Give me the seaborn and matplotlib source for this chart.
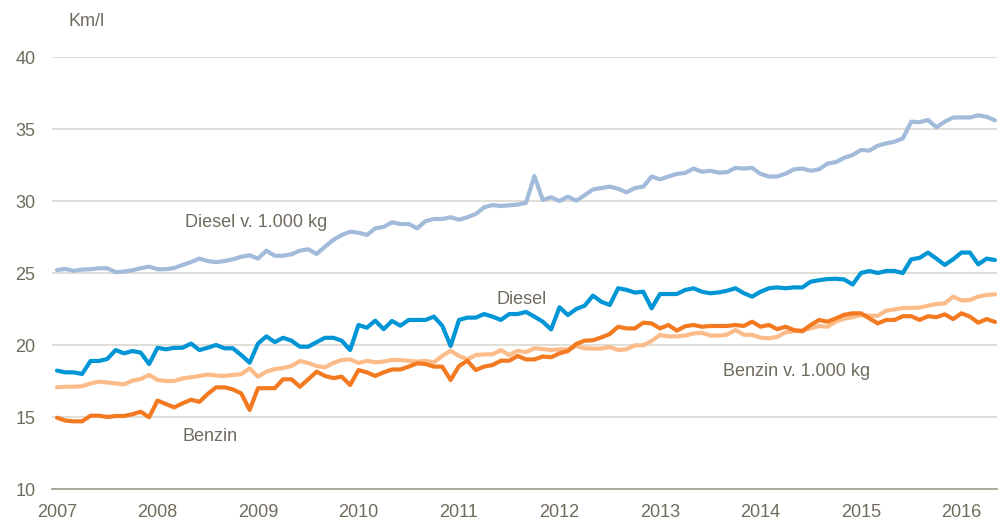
import numpy as np
import pandas as pd
import seaborn as sns
import matplotlib.pyplot as plt

# monthly values, Jan 2007 - May 2016 (Km/l)
diesel_kg = [
    25.2, 25.28, 25.15, 25.24, 25.26, 25.33, 25.33, 25.05, 25.1, 25.19, 25.33, 25.44,
    25.26, 25.26, 25.35, 25.56, 25.76, 26.0, 25.83, 25.75, 25.83, 25.95, 26.13, 26.23,
    26.0, 26.55, 26.2, 26.2, 26.3, 26.55, 26.65, 26.32, 26.83, 27.3, 27.64, 27.87,
    27.8, 27.64, 28.1, 28.2, 28.52, 28.4, 28.4, 28.1, 28.6, 28.75, 28.75, 28.87,
    28.7, 28.87, 29.1, 29.56, 29.72, 29.65, 29.7, 29.75, 29.88, 31.74, 30.07, 30.26,
    30.0, 30.3, 30.02, 30.4, 30.8, 30.9, 31.0, 30.85, 30.6, 30.9, 31.0, 31.7,
    31.5, 31.7, 31.88, 31.95, 32.25, 32.03, 32.1, 31.97, 32.0, 32.3, 32.25, 32.3,
    31.88, 31.7, 31.7, 31.9, 32.2, 32.25, 32.1, 32.2, 32.6, 32.7, 33.0, 33.2,
    33.54, 33.5, 33.84, 34.0, 34.12, 34.35, 35.51, 35.47, 35.63, 35.12, 35.51, 35.8,
    35.8, 35.8, 35.95, 35.85, 35.6,
]
diesel = [
    18.22, 18.1, 18.1, 17.99, 18.89, 18.89, 19.03, 19.65, 19.42, 19.58, 19.47, 18.68,
    19.81, 19.7, 19.8, 19.81, 20.1, 19.65, 19.81, 20.0, 19.77, 19.77, 19.3, 18.77,
    20.1, 20.6, 20.2, 20.5, 20.3, 19.88, 19.88, 20.2, 20.5, 20.5, 20.3, 19.65,
    21.39, 21.2, 21.69, 21.1, 21.67, 21.34, 21.74, 21.74, 21.74, 21.97, 21.34, 19.93,
    21.74, 21.9, 21.9, 22.15, 21.97, 21.74, 22.15, 22.15, 22.3, 21.97, 21.62, 21.08,
    22.62, 22.08, 22.5, 22.73, 23.43, 23.0, 22.78, 23.94, 23.83, 23.64, 23.7, 22.55,
    23.54, 23.54, 23.54, 23.82, 23.94, 23.7, 23.59, 23.65, 23.77, 23.94, 23.6, 23.36,
    23.7, 23.94, 24.0, 23.94, 24.0, 24.0, 24.4, 24.5, 24.58, 24.6, 24.55, 24.2,
    25.0, 25.14, 25.0, 25.14, 25.14, 25.0, 25.95, 26.05, 26.42, 26.0, 25.56, 25.95,
    26.42, 26.42, 25.6, 26.0, 25.9,
]
benzin_kg = [
    17.06, 17.1, 17.1, 17.14, 17.33, 17.45, 17.4, 17.33, 17.27, 17.52, 17.64, 17.92,
    17.57, 17.5, 17.5, 17.68, 17.76, 17.85, 17.95, 17.88, 17.85, 17.92, 17.97, 18.38,
    17.8, 18.15, 18.33, 18.4, 18.54, 18.89, 18.75, 18.54, 18.45, 18.75, 18.96, 19.0,
    18.75, 18.9, 18.8, 18.85, 18.96, 18.96, 18.9, 18.85, 18.9, 18.8, 19.24, 19.6,
    19.24, 19.0, 19.3, 19.35, 19.35, 19.65, 19.3, 19.6, 19.5, 19.77, 19.72, 19.65,
    19.7, 19.7, 19.93, 19.77, 19.75, 19.75, 19.86, 19.65, 19.7, 19.98, 19.98, 20.28,
    20.7, 20.6, 20.6, 20.65, 20.8, 20.85, 20.65, 20.65, 20.72, 21.04, 20.72, 20.7,
    20.51, 20.46, 20.57, 20.88, 20.95, 21.04, 21.16, 21.32, 21.27, 21.62, 21.83, 21.93,
    22.08, 22.03, 22.03, 22.38, 22.47, 22.57, 22.58, 22.6, 22.73, 22.85, 22.89, 23.36,
    23.1, 23.12, 23.36, 23.47, 23.52,
]
benzin = [
    14.95, 14.75, 14.7, 14.7, 15.09, 15.09, 15.0, 15.07, 15.07, 15.19, 15.37, 14.98,
    16.14, 15.9, 15.67, 15.95, 16.2, 16.05, 16.6, 17.06, 17.06, 16.92, 16.64, 15.49,
    17.0, 17.0, 17.0, 17.62, 17.62, 17.1, 17.62, 18.15, 17.85, 17.7, 17.8, 17.22,
    18.26, 18.1, 17.85, 18.1, 18.3, 18.3, 18.5, 18.73, 18.68, 18.5, 18.5, 17.57,
    18.54, 18.91, 18.26, 18.5, 18.61, 18.91, 18.91, 19.24, 19.0, 19.0, 19.2, 19.15,
    19.42, 19.58, 20.07, 20.3, 20.33, 20.53, 20.76, 21.27, 21.15, 21.15, 21.55, 21.5,
    21.15, 21.39, 21.0, 21.3, 21.39, 21.27, 21.32, 21.32, 21.32, 21.39, 21.32, 21.62,
    21.27, 21.39, 21.1, 21.27, 21.04, 20.95, 21.39, 21.74, 21.62, 21.85, 22.1, 22.2,
    22.2, 21.85, 21.5, 21.74, 21.74, 22.0, 22.0, 21.74, 22.0, 21.93, 22.13, 21.8,
    22.2, 21.97, 21.55, 21.8, 21.6,
]
years = list(range(2007, 2017))

series = {
    'Diesel v. 1.000 kg': diesel_kg,
    'Diesel': diesel,
    'Benzin v. 1.000 kg': benzin_kg,
    'Benzin': benzin,
}
colors = {
    'Diesel v. 1.000 kg': '#a2bbdb',
    'Diesel': '#0095d5',
    'Benzin v. 1.000 kg': '#fbbc8a',
    'Benzin': '#f47a22',
}

months = np.arange(len(diesel)) / 12 + 2007
df = pd.concat(
    [pd.DataFrame({'time': months, 'kml': vals, 'serie': name}) for name, vals in series.items()],
    ignore_index=True,
)

sns.set_style('white')
plt.rcParams['font.family'] = ['Liberation Sans', 'DejaVu Sans']
txt_color = '#6f6b5c'
fs = 13

fig = plt.figure(figsize=(9.99, 5.25), dpi=100)
ax = fig.add_axes([52 / 999, 1 - 489 / 525, 945 / 999, 432 / 525])

sns.lineplot(data=df, x='time', y='kml', hue='serie', palette=colors,
             linewidth=3.0, legend=False, ax=ax, zorder=3)

ax.set_xlim(2007 - 5 / 100.5, 2007 + 940 / 100.5)
ax.set_ylim(10, 40)
ax.set_yticks(range(10, 41, 5))
ax.set_xticks(years)
ax.set_xticklabels([str(y) for y in years])
ax.set_xlabel('')
ax.set_ylabel('')

ax.grid(axis='y', color='#d9d8d0', linewidth=1.2)
ax.grid(axis='x', visible=False)
for side in ['top', 'right', 'left']:
    ax.spines[side].set_visible(False)
ax.spines['bottom'].set_color('#a09d8c')
ax.spines['bottom'].set_linewidth(1.2)
ax.tick_params(axis='both', length=0, labelsize=fs, labelcolor=txt_color)
ax.tick_params(axis='y', pad=12)
ax.tick_params(axis='x', pad=11)

# series labels
ax.text(2008.27, 28.54, 'Diesel v. 1.000 kg', fontsize=fs, color=txt_color, va='center')
ax.text(2011.37, 23.13, 'Diesel', fontsize=fs, color=txt_color, va='center')
ax.text(2013.63, 18.13, 'Benzin v. 1.000 kg', fontsize=fs, color=txt_color, va='center')
ax.text(2008.25, 13.68, 'Benzin', fontsize=fs, color=txt_color, va='center')
fig.text(68 / 999, 1 - 22 / 525, 'Km/l', fontsize=fs, color=txt_color, va='center')

fig.savefig('out.png', dpi=100)
